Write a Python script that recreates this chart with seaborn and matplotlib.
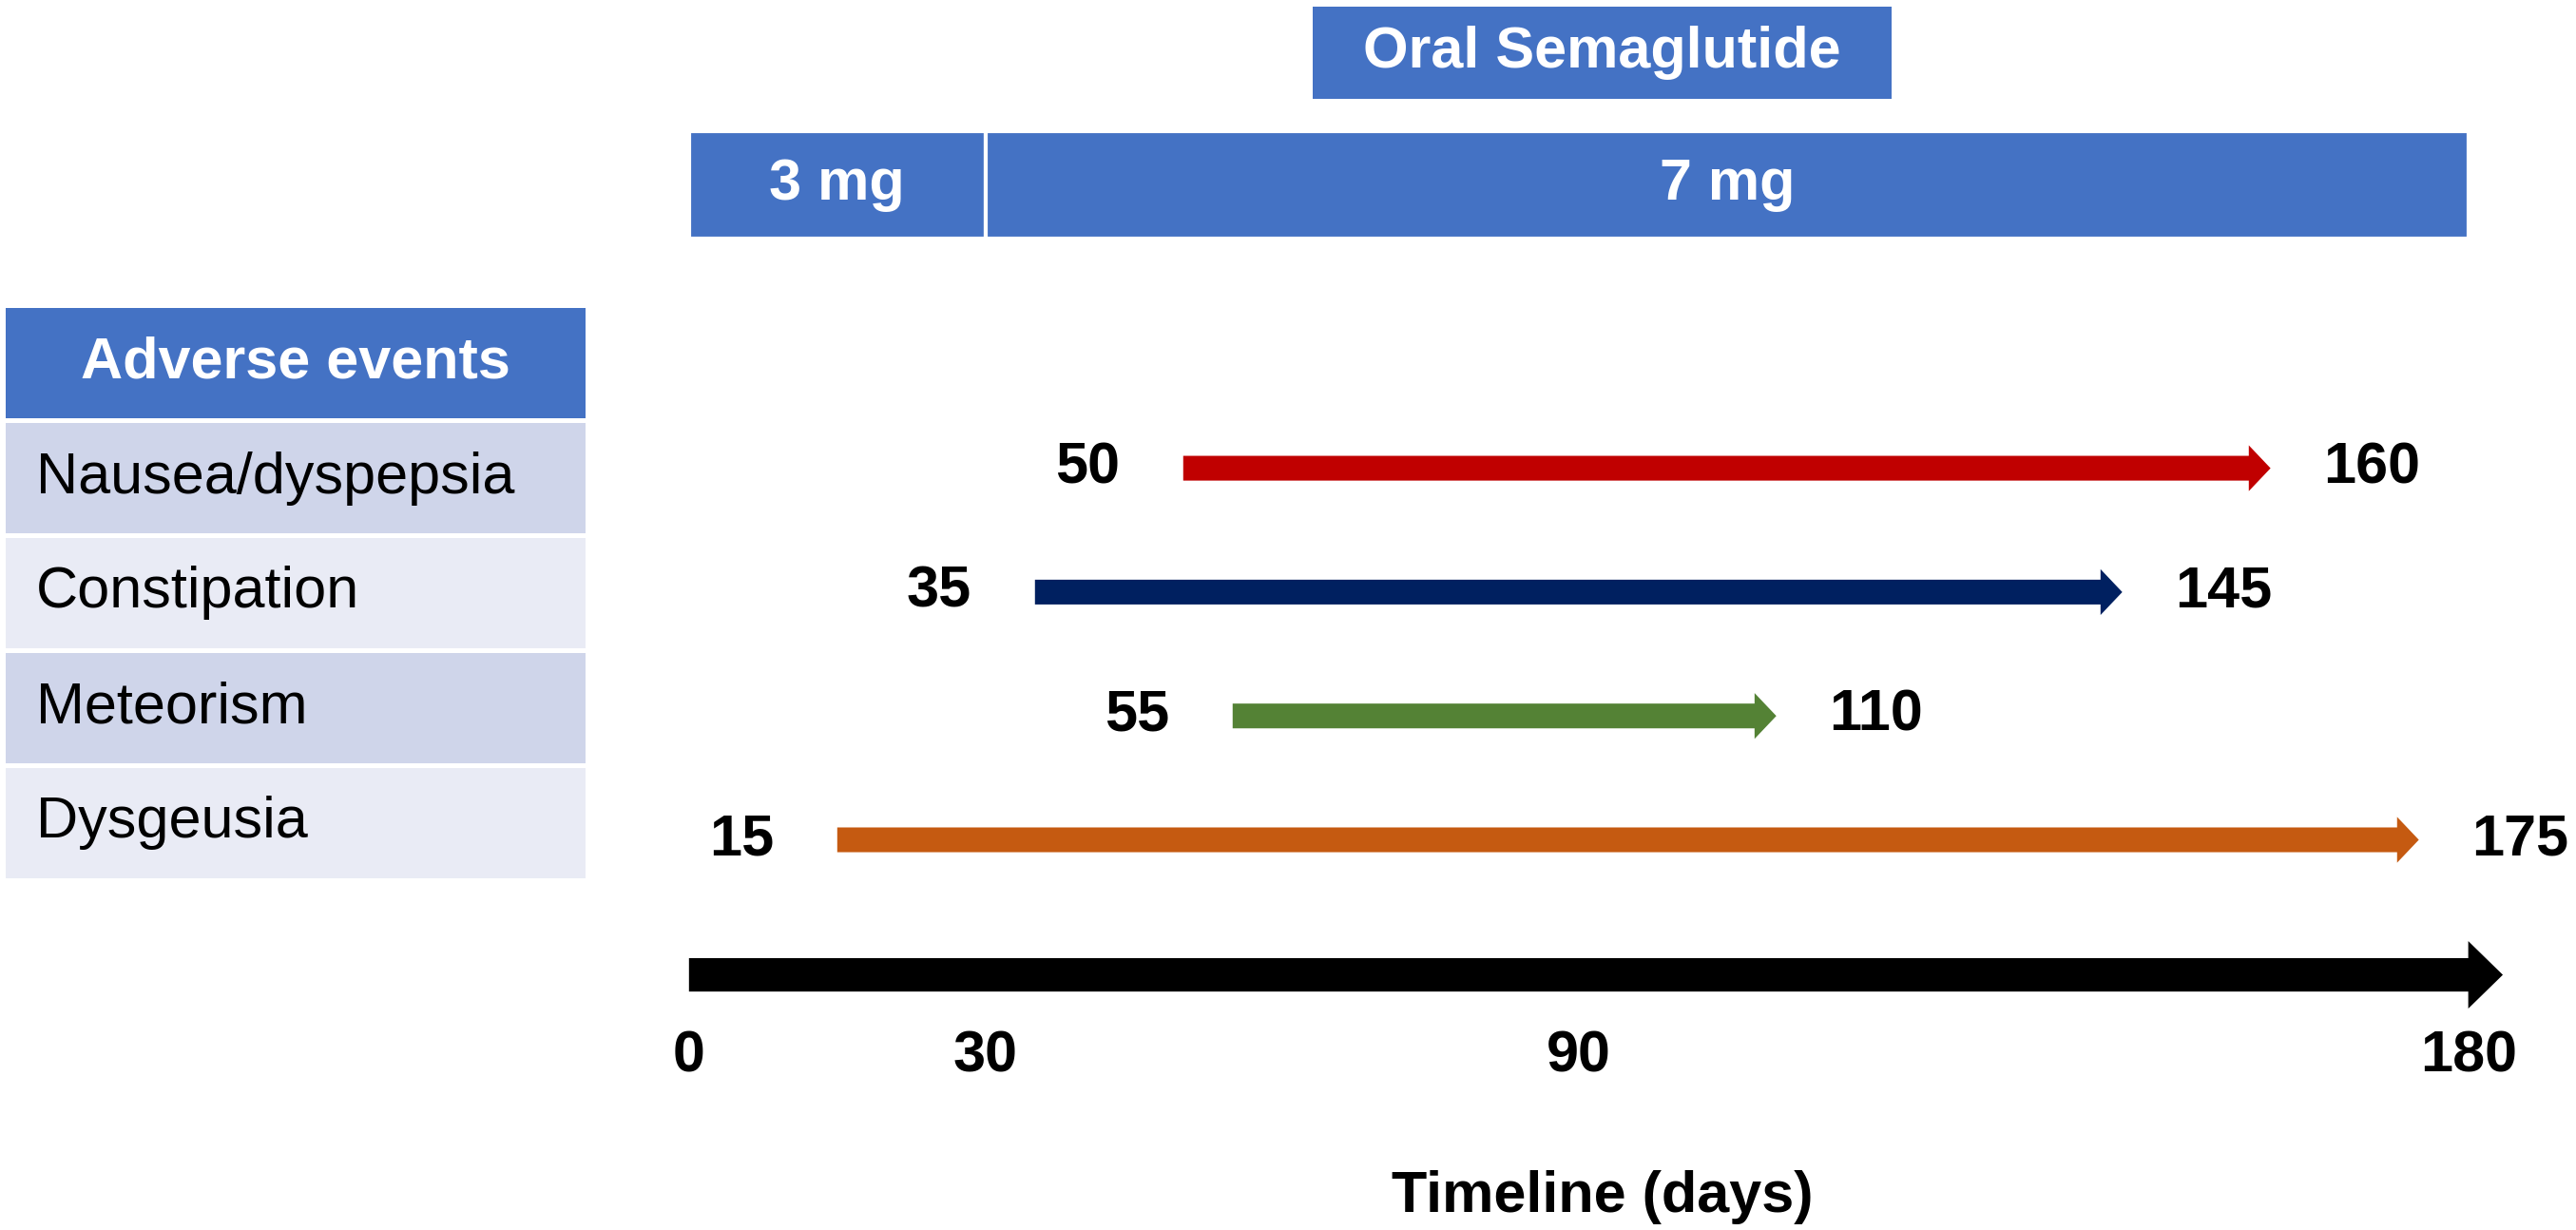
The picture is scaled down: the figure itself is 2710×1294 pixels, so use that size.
import numpy as np
import pandas as pd
import matplotlib.pyplot as plt
from matplotlib.patches import FancyArrow, Rectangle
import seaborn as sns

# adverse events: day of onset and day of resolution
events = ["Nausea/dyspepsia", "Constipation", "Meteorism", "Dysgeusia"]
start_day = [50, 35, 55, 15]
end_day = [160, 145, 110, 175]
event_colors = ["#C00000", "#002060", "#548235", "#C55A11"]

# dosing phases
dose_labels = ["3 mg", "7 mg"]
dose_start = [0, 30]
dose_end = [30, 180]

timeline_ticks = [0, 30, 90, 180]

sns.set_theme(style="white")
plt.rcParams["font.family"] = ["Liberation Sans", "DejaVu Sans"]
plt.rcParams["text.color"] = "black"

BLUE = "#4472C4"
FS = 44

df = pd.DataFrame({"event": events, "start": start_day, "end": end_day,
                   "color": event_colors})
df["row"] = np.arange(len(df))

fig = plt.figure(figsize=(27.1, 12.94), dpi=100)
ax = fig.add_axes([0, 0, 1, 1])
ax.set_xlim(-69.7, 190.9)
ax.set_ylim(6.15, -3.78)
ax.axis("off")

# event arrows with start / end labels
for _, r in df.iterrows():
    ax.add_patch(FancyArrow(r.start, r.row, r.end - r.start, 0, width=0.2,
                            head_width=0.37, head_length=2.2,
                            length_includes_head=True, color=r.color, lw=0))
    ax.annotate(str(r.start), (r.start, r.row), xytext=(-48, 0),
                textcoords="offset points", ha="right", va="center",
                fontsize=FS, fontweight="bold", color="black")
    ax.annotate(str(r.end), (r.end, r.row), xytext=(40, 0),
                textcoords="offset points", ha="left", va="center",
                fontsize=FS, fontweight="bold", color="black")

# timeline arrow
tl_row = 4.09
ax.add_patch(FancyArrow(timeline_ticks[0], tl_row, timeline_ticks[-1], 0,
                        width=0.27, head_width=0.545, head_length=3.5,
                        length_includes_head=False, color="black", lw=0))
for t in timeline_ticks:
    ax.text(t, 4.75, str(t), ha="center", va="center", fontsize=FS,
            fontweight="bold", color="black")
ax.text(0.622, 0.027, "Timeline (days)", transform=ax.transAxes,
        ha="center", va="center", fontsize=FS, fontweight="bold",
        color="black")

# dose bars
dose_row = -2.29
widths = np.subtract(dose_end, dose_start)
ax.barh(dose_row, widths, left=dose_start, height=0.867, color=BLUE,
        edgecolor="white", linewidth=3)
for lab, s, e in zip(dose_labels, dose_start, dose_end):
    ax.text((s + e) / 2, dose_row, lab, ha="center", va="center",
            fontsize=FS, fontweight="bold", color="white")

# drug header box
ax.add_patch(Rectangle((0.5096, 0.9196), 0.2247, 0.075,
                       transform=ax.transAxes, color=BLUE, lw=0))
ax.text(0.622, 0.957, "Oral Semaglutide", transform=ax.transAxes,
        ha="center", va="center", fontsize=FS, fontweight="bold",
        color="white")

# table of adverse events on the left
tab = fig.add_axes([6 / 2710, 1 - 926 / 1294, 610 / 2710, 604 / 1294])
tab.set_xlim(0, 1)
tab.set_ylim(len(events) + 1, 0)
tab.axis("off")
row_cols = [BLUE] + ["#CFD5EA", "#E9EBF5"] * 2
g = 0.02
for i, c in enumerate(row_cols):
    tab.add_patch(Rectangle((0, i + g), 1, 1 - 2 * g, color=c, lw=0))
tab.text(0.5, 0.5, "Adverse events", ha="center", va="center",
         fontsize=FS, fontweight="bold", color="white")
for i, name in enumerate(events, start=1):
    tab.text(0.052, i + 0.5, name, ha="left", va="center", fontsize=FS,
             color="black")

fig.savefig("out.png", dpi=100, facecolor="white")
